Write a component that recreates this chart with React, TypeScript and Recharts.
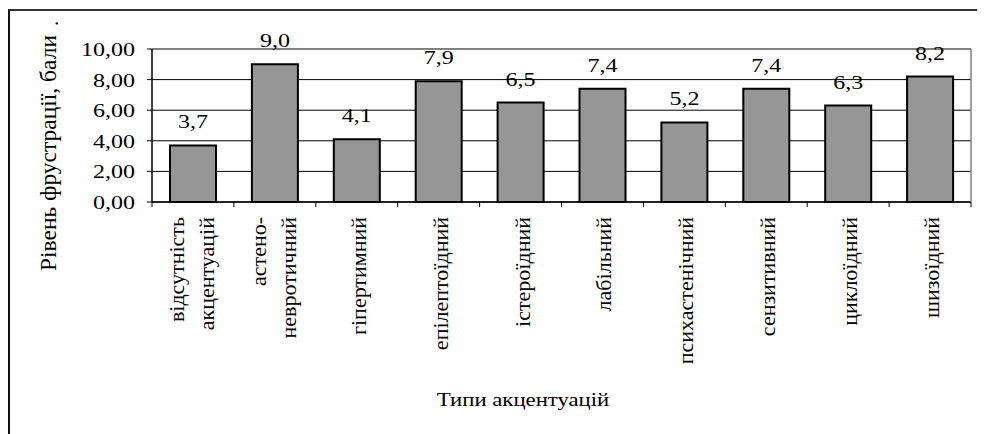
import { Bar, BarChart, CartesianGrid, Label, LabelList, XAxis, YAxis } from "recharts";

const categories = [
  "відсутність акцентуацій",
  "астено- невротичний",
  "гіпертимний",
  "епілептоїдний",
  "істероїдний",
  "лабільний",
  "психастенічний",
  "сензитивний",
  "циклоїдний",
  "шизоїдний",
];
// manual line breaks, as in the source chart
const categoryLines = [
  ["відсутність", "акцентуацій"],
  ["астено-", "невротичний"],
  ["гіпертимний"],
  ["епілептоїдний"],
  ["істероїдний"],
  ["лабільний"],
  ["психастенічний"],
  ["сензитивний"],
  ["циклоїдний"],
  ["шизоїдний"],
];
const frustration = [3.7, 9.0, 4.1, 7.9, 6.5, 7.4, 5.2, 7.4, 6.3, 8.2];
const yTicks = [0, 2, 4, 6, 8, 10];

const yTitle = "Рівень фрустрації, бали";
const xTitle = "Типи акцентуацій";

const FONT = "Liberation Serif";
const HSTRETCH = 1.3; // source text is stretched horizontally
const MARGIN_TOP = 38;
const txt = { fontFamily: FONT, fill: "#000" };

const data = categories.map((name, i) => ({ name, value: frustration[i] }));

const fmt = (v: number, d: number) => v.toFixed(d).replace(".", ",");

function YTick(props: any) {
  const { x, y, payload } = props;
  return (
    <text
      transform={`translate(${x} ${y + 7}) scale(${HSTRETCH} 1)`}
      textAnchor="end"
      fontSize={18.5}
      style={txt}
    >
      {fmt(Number(payload.value), 2)}
    </text>
  );
}

function XTick(props: any) {
  const { x, y, payload, index } = props;
  const half = payload?.offset || 41;
  const idx = payload?.index ?? index;
  const lines: string[] = categoryLines[idx] || [String(payload.value)];
  const shifts = lines.length === 2 ? [-9, 21] : [9];
  return (
    <g>
      <line x1={x - half} x2={x - half} y1={y} y2={y + 5} stroke="#000" />
      {idx === categories.length - 1 && <line x1={x + half} x2={x + half} y1={y} y2={y + 5} stroke="#000" />}
      {lines.map((t, i) => (
        <text
          key={i}
          transform={`translate(${x + shifts[i]} ${y + 15}) rotate(-90)`}
          textAnchor="end"
          fontSize={22}
          style={txt}
        >
          {t}
        </text>
      ))}
    </g>
  );
}

function ValueLabel(props: any) {
  const x = Number(props.x);
  const y = Number(props.y);
  const w = Number(props.width);
  return (
    <text
      transform={`translate(${x + w / 2} ${y - 17}) scale(${HSTRETCH} 1)`}
      textAnchor="middle"
      fontSize={18.5}
      style={txt}
    >
      {fmt(Number(props.value), 1)}
    </text>
  );
}

// x-axis title plus the grey frame on top and right of the plot area
function XAxisTitle(p: any) {
  const vb = p.viewBox || {};
  const right = vb.x + vb.width;
  return (
    <g>
      <line x1={vb.x} x2={right} y1={MARGIN_TOP} y2={MARGIN_TOP} stroke="#808080" strokeWidth={1.5} />
      <line x1={right} x2={right} y1={MARGIN_TOP} y2={vb.y} stroke="#808080" strokeWidth={1.5} />
      <text
        transform={`translate(${vb.x + vb.width * 0.453} ${vb.y + vb.height + 4}) scale(1.23 1)`}
        textAnchor="middle"
        fontSize={18.5}
        style={txt}
      >
        {xTitle}
      </text>
    </g>
  );
}

export default function App() {
  return (
    <div
      style={{
        width: 967,
        height: 424,
        marginTop: 1,
        borderLeft: "2px solid #111",
        borderTop: "2px solid #333",
        background: "#fff",
      }}
    >
      <BarChart
        width={967}
        height={415}
        data={data}
        margin={{ top: MARGIN_TOP, right: 6, left: 0, bottom: 24 }}
        barSize={46}
      >
        <CartesianGrid vertical={false} stroke="#000" strokeWidth={1} />
        <XAxis
          dataKey="name"
          height={200}
          interval={0}
          tickLine={false}
          tickSize={0}
          tickMargin={0}
          axisLine={{ stroke: "#000", strokeWidth: 1.5 }}
          tick={<XTick />}
        >
          <Label content={XAxisTitle} />
        </XAxis>
        <YAxis
          domain={[0, 10]}
          ticks={yTicks}
          interval={0}
          width={142}
          tickSize={5}
          tickMargin={12}
          tickLine={{ stroke: "#000" }}
          axisLine={{ stroke: "#000", strokeWidth: 1.5 }}
          tick={<YTick />}
        >
          <Label
            content={(p: any) => {
              const vb = p.viewBox || {};
              return (
                <g>
                  <text
                    transform={`translate(${vb.x + 46} ${vb.y + 222}) rotate(-90)`}
                    textAnchor="start"
                    fontSize={23.5}
                    style={txt}
                  >
                    {yTitle}
                  </text>
                  <text
                    transform={`translate(${vb.x + 48} ${vb.y - 23}) rotate(-90)`}
                    textAnchor="start"
                    fontSize={21}
                    style={txt}
                  >
                    .
                  </text>
                </g>
              );
            }}
          />
        </YAxis>
        <Bar dataKey="value" fill="#969696" stroke="#000" strokeWidth={2} isAnimationActive={false}>
          <LabelList dataKey="value" content={<ValueLabel />} />
        </Bar>
      </BarChart>
    </div>
  );
}
